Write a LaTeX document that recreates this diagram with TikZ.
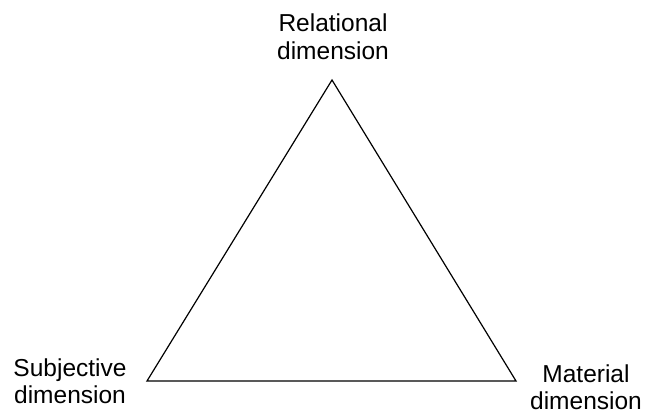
\documentclass[tikz,border=0pt]{standalone}
\usepackage{fontspec}
\setmainfont{Liberation Sans}
\begin{document}
\begin{tikzpicture}[x=1pt,y=1pt,
  lbl/.style={align=center,inner sep=0pt,font=\fontsize{24.5}{27.5}\selectfont},
  edge/.style={line width=1.2pt,line join=miter}]
\useasboundingbox[fill=white] (0,0) rectangle (648,414);
\coordinate (R) at (332,334);
\coordinate (S) at (147,33);
\coordinate (M) at (516,33);
\draw[edge] (R) -- (S) -- (M) -- cycle;
\node[lbl] (rl) at (333,377) {Relational\\dimension};
\node[lbl] (sl) at (70,33) {Subjective\\dimension};
\node[lbl] (ml) at (586,27) {Material\\dimension};
\end{tikzpicture}
\end{document}
